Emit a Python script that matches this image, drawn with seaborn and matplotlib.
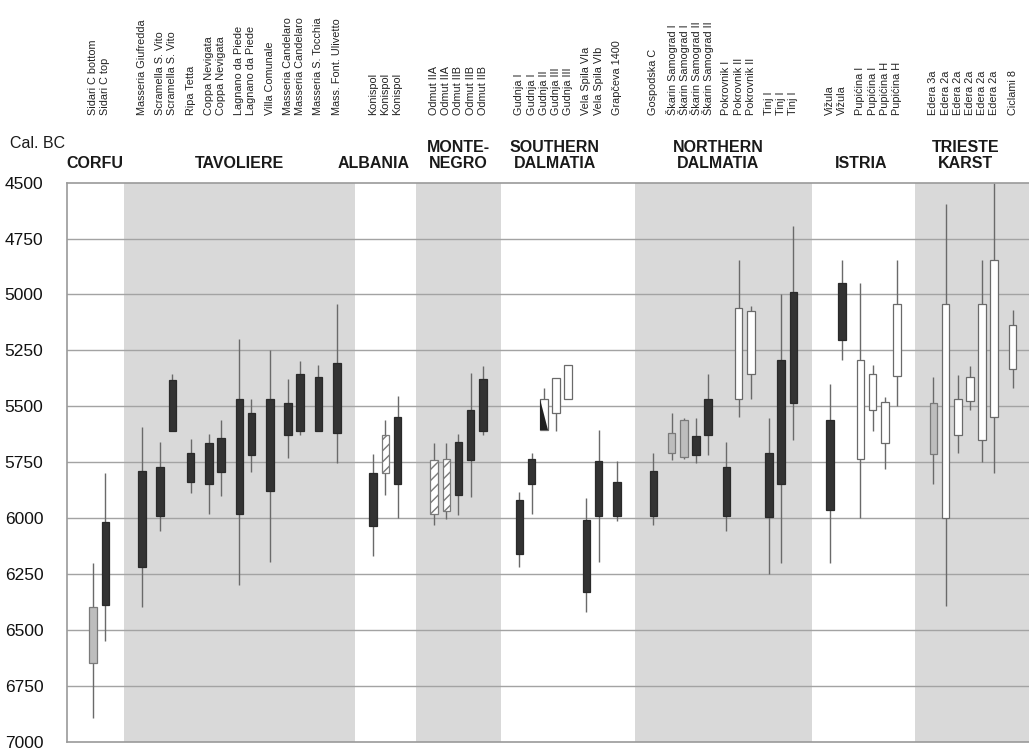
import numpy as np
import matplotlib
matplotlib.use('Agg')
import matplotlib.pyplot as plt
import matplotlib.transforms as mtransforms
from matplotlib.patches import Polygon
import seaborn as sns

# site labels (top of chart), one per candle
sites = ['Sidari C bottom', 'Sidari C top',
         'Masseria Giufredda', 'Scramella S. Vito', 'Scramella S. Vito', 'Ripa Tetta',
         'Coppa Nevigata', 'Coppa Nevigata', 'Lagnano da Piede', 'Lagnano da Piede',
         'Villa Comunale', 'Masseria Candelaro', 'Masseria Candelaro',
         'Masseria S. Tocchia', 'Mass. Font. Ulivetto',
         'Konispol', 'Konispol', 'Konispol',
         'Odmut IIA', 'Odmut IIA', 'Odmut IIB', 'Odmut IIB', 'Odmut IIB',
         'Gudnja I', 'Gudnja I', 'Gudnja II', 'Gudnja III', 'Gudnja III',
         'Vela Spila VIa', 'Vela Spila VIb', 'Grapčeva 1400',
         'Gospodska C', 'Škarin Samograd I', 'Škarin Samograd I', 'Škarin Samograd II',
         'Škarin Samograd II', 'Pokrovnik I', 'Pokrovnik II', 'Pokrovnik II',
         'Tinj I', 'Tinj I', 'Tinj I',
         'Vižula', 'Vižula', 'Pupićina I', 'Pupićina I', 'Pupićina H', 'Pupićina H',
         'Edera 3a', 'Edera 2a', 'Edera 2a', 'Edera 2a', 'Edera 2a', 'Edera 2a', 'Ciclami 8']

# calibrated ranges, cal. BC: whisker (younger end), box young, box old, whisker (older end)
whisk_young = [6200, 5800,
               5595, 5660, 5355, 5645, 5625, 5560, 5200, 5470, 5250, 5380, 5300, 5315, 5045,
               5715, 5560, 5455,
               5665, 5665, 5625, 5350, 5320,
               5885, 5710, 5420, 5375, 5315, 5910, 5605, 5745,
               5710, 5530, 5555, 5555, 5355, 5660, 4845, 5050, 5555, 5000, 4695,
               5400, 4845, 4950, 5315, 5460, 4845,
               5370, 4595, 5360, 5320, 4845, 4500, 5070]
box_young = [6400, 6020,
             5790, 5770, 5385, 5710, 5665, 5640, 5470, 5530, 5470, 5485, 5355, 5370, 5305,
             5800, 5630, 5550,
             5740, 5735, 5660, 5515, 5380,
             5920, 5735, 5470, 5375, 5315, 6010, 5745, 5840,
             5790, 5620, 5560, 5635, 5470, 5770, 5060, 5075, 5710, 5295, 4990,
             5560, 4950, 5295, 5355, 5480, 5045,
             5485, 5045, 5470, 5370, 5045, 4845, 5135]
box_old = [6650, 6390,
           6220, 5990, 5610, 5840, 5850, 5795, 5980, 5720, 5880, 5630, 5610, 5610, 5620,
           6035, 5800, 5850,
           5980, 5970, 5895, 5740, 5610,
           6160, 5850, 5605, 5530, 5470, 6330, 5990, 5990,
           5990, 5710, 5725, 5720, 5630, 5990, 5470, 5355, 5995, 5850, 5485,
           5965, 5205, 5735, 5515, 5665, 5365,
           5715, 6000, 5630, 5475, 5650, 5550, 5335]
whisk_old = [6895, 6550,
             6400, 6060, 5610, 5890, 5980, 5900, 6300, 5795, 6195, 5730, 5630, 5610, 5755,
             6170, 5895, 6000,
             6030, 6005, 5985, 5905, 5630,
             6220, 5980, 5605, 5610, 5470, 6420, 6195, 6015,
             6030, 5740, 5735, 5755, 5720, 6060, 5550, 5470, 6250, 6200, 5650,
             6200, 5295, 6000, 5610, 5780, 5500,
             5850, 6395, 5710, 5515, 5750, 5800, 5420]
# sample type: dark / white / gray / hatch / half
kind = ['gray', 'dark',
        'dark', 'dark', 'dark', 'dark', 'dark', 'dark', 'dark', 'dark', 'dark', 'dark', 'dark', 'dark', 'dark',
        'dark', 'hatch', 'dark',
        'hatch', 'hatch', 'dark', 'dark', 'dark',
        'dark', 'dark', 'half', 'white', 'white', 'dark', 'dark', 'dark',
        'dark', 'gray', 'gray', 'dark', 'dark', 'dark', 'white', 'white', 'dark', 'dark', 'dark',
        'dark', 'dark', 'white', 'white', 'white', 'white',
        'gray', 'white', 'white', 'white', 'white', 'white', 'white']

regions = ['CORFU', 'TAVOLIERE', 'ALBANIA', 'MONTE-\nNEGRO', 'SOUTHERN\nDALMATIA',
           'NORTHERN\nDALMATIA', 'ISTRIA', 'TRIESTE\nKARST']
region_size = [2, 13, 3, 5, 8, 11, 6, 7]

# layout: category slot of each candle on the x axis, and region title centres
slot = [4, 6,
        12, 15, 17, 20, 23, 25, 28, 30, 33, 36, 38, 41, 44,
        50, 52, 54,
        60, 62, 64, 66, 68,
        74, 76, 78, 80, 82, 85, 87, 90,
        96, 99, 101, 103, 105, 108, 110, 112, 115, 117, 119,
        125, 127, 130, 132, 134, 136,
        142, 144, 146, 148, 150, 152, 155]
title_x = [4.3, 28, 50.1, 64, 79.8, 106.6, 130.2, 147.3]

sns.set_theme(style='white')
plt.rcParams['font.family'] = ['Liberation Sans', 'DejaVu Sans']

W, H = 1029, 751
fig = plt.figure(figsize=(W / 100, H / 100), dpi=100)
ax = fig.add_axes([67 / W, 1 - 741.6 / H, (W - 67) / W, (741.6 - 182.6) / H])

# shaded region bands (every other region)
starts = np.cumsum([0] + region_size[:-1])
ends = np.cumsum(region_size) - 1
for i in range(len(regions)):
    if i % 2 == 1:
        lo = (slot[starts[i]] + slot[ends[i - 1]]) / 2
        hi = (slot[ends[i]] + slot[starts[i + 1]]) / 2 if i + 1 < len(regions) else 200
        ax.axvspan(lo, hi, color='#d9d9d9', lw=0, zorder=0)

for yv in range(4750, 7000, 250):
    ax.axhline(yv, color='#a3a3a3', lw=1.0, zorder=1)

bw = 1.25
ax.vlines(slot, whisk_young, whisk_old, color='#6a6a6a', lw=1.0, zorder=2)
styles = {'dark': dict(color='#333333', edgecolor='#2a2a2a'),
          'white': dict(color='white', edgecolor='#6a6a6a'),
          'gray': dict(color='#bdbdbd', edgecolor='#7a7a7a'),
          'hatch': dict(color='white', edgecolor='#7a7a7a', hatch='///'),
          'half': dict(color='white', edgecolor='#6a6a6a')}
for x, b0, b1, k in zip(slot, box_young, box_old, kind):
    ax.bar(x, b1 - b0, bottom=b0, width=bw, lw=0.9, zorder=3, **styles[k])
    if k == 'half':
        tri = Polygon([[x - bw / 2, b0], [x - bw / 2, b1], [x + bw / 2, b1]],
                      closed=True, facecolor='#222222', edgecolor='none', zorder=4)
        ax.add_patch(tri)

ax.set_xlim(-0.3, 157.7)
ax.set_ylim(7000, 4500)
ax.set_yticks(range(4500, 7001, 250))
ax.set_xticks([])
ax.tick_params(axis='y', length=0, pad=17, labelsize=12.5, labelcolor='#111111')
for side in ['left', 'top', 'bottom']:
    ax.spines[side].set_color('#9a9a9a')
    ax.spines[side].set_linewidth(1.2)
ax.spines['right'].set_visible(False)

trans = mtransforms.blended_transform_factory(ax.transData, fig.transFigure)
for x, s in zip(slot, sites):
    ax.text(x, 1 - 115 / H, s, transform=trans, rotation=90, ha='center', va='bottom',
            fontsize=7.8, color='#222222', clip_on=False)
for x, r in zip(title_x, regions):
    ax.text(x, 1 - 171 / H, r, transform=trans, ha='center', va='bottom',
            fontsize=11.5, fontweight='bold', color='#1a1a1a', linespacing=1.05, clip_on=False)
fig.text(10 / W, 1 - 143 / H, 'Cal. BC', ha='left', va='center', fontsize=11.5, color='#1a1a1a')

fig.savefig('out.png', dpi=100)
